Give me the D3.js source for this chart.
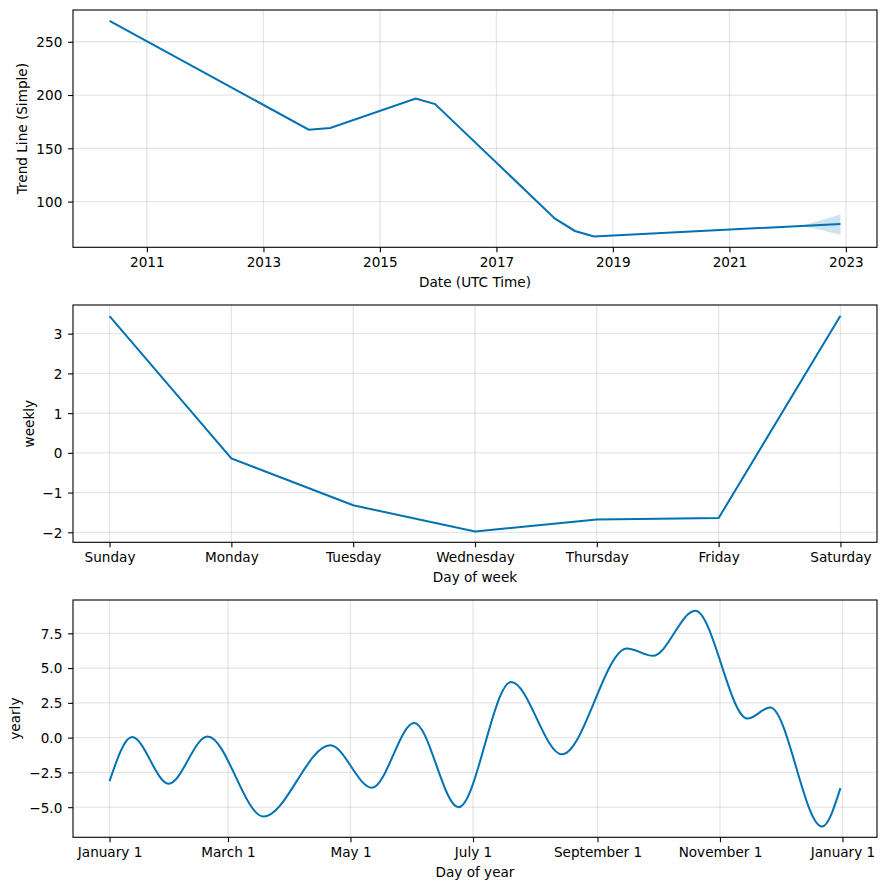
<!DOCTYPE html>
<html><head><meta charset="utf-8">
<script src="https://cdn.jsdelivr.net/npm/d3@7"></script>
<style>
body{margin:0;background:#fff}
text{font-family:"DejaVu Sans",sans-serif;font-size:13.6px;fill:#000}
</style>
</head><body><svg id="c" width="886" height="890"></svg>
<script>
// ---- Trend panel data ----
const trendDates = ["2010-05-12","2013-10-12","2014-02-24","2015-08-14","2015-12-13","2018-01-03","2018-05-08","2018-09-04","2022-11-28"];
const trendValues = [269.7,167.5,169.1,196.8,191.5,84.0,72.4,67.2,79.0];
const bandDates = ["2022-03-25","2022-07-15","2022-11-28"];
const bandLower = [77.1,73.7,68.9];
const bandUpper = [77.3,81.8,87.8];
const trendTickYears = [2011,2013,2015,2017,2019,2021,2023];
const trendTicks = [100,150,200,250];

// ---- Weekly panel data ----
const weekdays = ["Sunday","Monday","Tuesday","Wednesday","Thursday","Friday","Saturday"];
const weeklyValues = [3.44,-0.14,-1.32,-1.98,-1.68,-1.64,3.45];
const weeklyTicks = [-2,-1,0,1,2,3];

// ---- Yearly panel data (day of year, value): turning points and ends ----
const yearlyDays = [0,11.2,29.4,48.8,76.7,109.9,130.7,151.7,173.8,200.0,225.3,257.7,270.6,291.7,317.7,329.0,354.8,364.0];
const yearlyValues = [-3.13,0.04,-3.31,0.09,-5.67,-0.55,-3.6,1.05,-5.0,4.0,-1.2,6.41,5.88,9.12,1.37,2.16,-6.39,-3.63];
const yearlyTickLabels = ["January 1","March 1","May 1","July 1","September 1","November 1","January 1"];
const yearlyTickDays = [0,59,120,181,243,304,365];
const yearlyTicks = [-5,-2.5,0,2.5,5,7.5];

const svg = d3.select("#c");
svg.append("rect").attr("width",886).attr("height",890).attr("fill","#fff");
const L = 73, R = 877, H = 237.3;
const BLUE = "#0072B2";
const parse = d3.utcParse("%Y-%m-%d");

function padExtent(ext){ const p=(ext[1]-ext[0])*0.05; return [ext[0]-p, ext[1]+p]; }

function panel(o){
  const g = svg.append("g").attr("transform",`translate(0,${o.top})`);
  const x = o.x.range([L,R]);
  const y = o.y.range([H,0]);
  const grid = g.append("g");
  o.xTicks.forEach(t=>grid.append("line").attr("x1",x(t)).attr("x2",x(t)).attr("y1",0).attr("y2",H)
    .attr("stroke","rgba(128,128,128,0.2)").attr("stroke-width",1.3));
  o.yTicks.forEach(t=>grid.append("line").attr("x1",L).attr("x2",R).attr("y1",y(t)).attr("y2",y(t))
    .attr("stroke","rgba(128,128,128,0.2)").attr("stroke-width",1.3));
  o.draw(g,x,y);
  const ax = g.append("g").attr("transform",`translate(0,${H})`)
    .call(d3.axisBottom(x).tickValues(o.xTicks).tickFormat(o.xFormat).tickSize(4.9).tickSizeOuter(0));
  ax.select(".domain").remove();
  ax.selectAll("line").attr("stroke","#000").attr("stroke-width",1.1);
  ax.selectAll("text").attr("y",20).attr("dy",0);
  const ay = g.append("g").attr("transform",`translate(${L},0)`)
    .call(d3.axisLeft(y).tickValues(o.yTicks).tickFormat(o.yFormat).tickSize(4.9).tickSizeOuter(0));
  ay.select(".domain").remove();
  ay.selectAll("line").attr("stroke","#000").attr("stroke-width",1.1);
  ay.selectAll("text").attr("x",-10.7).attr("dy","0.36em");
  ax.attr("font-family",null).attr("font-size",null);
  ay.attr("font-family",null).attr("font-size",null);
  g.append("rect").attr("x",L).attr("y",0).attr("width",R-L).attr("height",H)
    .attr("fill","none").attr("stroke","#000").attr("stroke-width",1.1);
  g.append("text").attr("x",(L+R)/2).attr("y",H+39.7).attr("text-anchor","middle").text(o.xLabel);
  g.append("text").attr("transform",`translate(${o.yLabelX},${H/2}) rotate(-90)`)
    .attr("text-anchor","middle").text(o.yLabel);
}

// Trend
const tData = trendDates.map((d,i)=>({d:parse(d),v:trendValues[i]}));
const bData = bandDates.map((d,i)=>({d:parse(d),lo:bandLower[i],hi:bandUpper[i]}));
const tExtX = padExtent(d3.extent(tData,e=>+e.d));
const tExtY = padExtent([d3.min([...trendValues,...bandLower]), d3.max([...trendValues,...bandUpper])]);
panel({
  top:10,
  x:d3.scaleUtc().domain(tExtX.map(v=>new Date(v))),
  y:d3.scaleLinear().domain(tExtY),
  xTicks:trendTickYears.map(yv=>new Date(Date.UTC(yv,0,1))),
  xFormat:d=>d.getUTCFullYear(),
  yTicks:trendTicks, yFormat:d3.format("d"),
  xLabel:"Date (UTC Time)", yLabel:"Trend Line (Simple)", yLabelX:27,
  draw:(g,x,y)=>{
    g.append("path").datum(tData).attr("fill","none").attr("stroke",BLUE).attr("stroke-width",2)
      .attr("d",d3.line().x(e=>x(e.d)).y(e=>y(e.v)));
    g.append("path").datum(bData).attr("fill",BLUE).attr("fill-opacity",0.2)
      .attr("d",d3.area().x(e=>x(e.d)).y0(e=>y(e.lo)).y1(e=>y(e.hi)));
  }
});

// Weekly
panel({
  top:305,
  x:d3.scaleLinear().domain(padExtent([0,weekdays.length-1])),
  y:d3.scaleLinear().domain(padExtent(d3.extent(weeklyValues))),
  xTicks:d3.range(weekdays.length), xFormat:i=>weekdays[i],
  yTicks:weeklyTicks, yFormat:d3.format("d"),
  xLabel:"Day of week", yLabel:"weekly", yLabelX:33.5,
  draw:(g,x,y)=>{
    g.append("path").datum(weeklyValues).attr("fill","none").attr("stroke",BLUE).attr("stroke-width",2)
      .attr("d",d3.line().x((v,i)=>x(i)).y(v=>y(v)));
  }
});

// Yearly
const yData = yearlyDays.map((d,i)=>({d, v:yearlyValues[i]}));
panel({
  top:600,
  x:d3.scaleLinear().domain(padExtent([0,364])),
  y:d3.scaleLinear().domain(padExtent(d3.extent(yearlyValues))),
  xTicks:yearlyTickDays, xFormat:(d,i)=>yearlyTickLabels[i],
  yTicks:yearlyTicks, yFormat:d3.format(".1f"),
  xLabel:"Day of year", yLabel:"yearly", yLabelX:19.8,
  draw:(g,x,y)=>{
    g.append("path").datum(yData).attr("fill","none").attr("stroke",BLUE).attr("stroke-width",2)
      .attr("d",d3.line().curve(d3.curveMonotoneX).x(e=>x(e.d)).y(e=>y(e.v)));
  }
});
</script></body></html>
